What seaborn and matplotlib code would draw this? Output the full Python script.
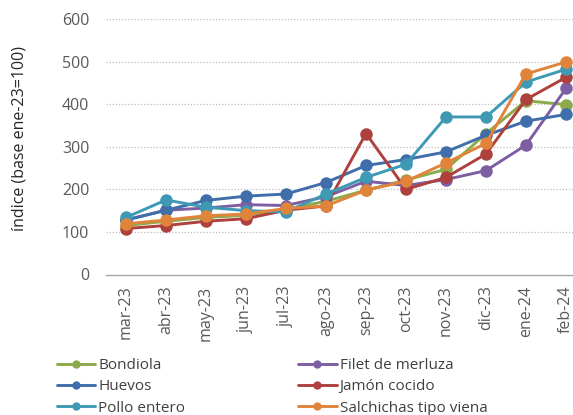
import matplotlib
matplotlib.use('Agg')
import matplotlib.pyplot as plt
from matplotlib.lines import Line2D
import seaborn as sns
import pandas as pd

sns.set_style("white")
plt.rcParams['font.family'] = ['Open Sans', 'DejaVu Sans']

months = ['mar-23', 'abr-23', 'may-23', 'jun-23', 'jul-23', 'ago-23',
          'sep-23', 'oct-23', 'nov-23', 'dic-23', 'ene-24', 'feb-24']

bondiola = [115, 125, 134, 139, 153, 172, 198, 222, 247, 331, 408, 399]
filet    = [128, 151, 156, 164, 162, 183, 219, 209, 223, 244, 304, 437]
huevos   = [128, 151, 174, 184, 189, 216, 256, 270, 288, 327, 360, 376]
jamon    = [108, 115, 125, 131, 151, 161, 331, 200, 228, 283, 411, 463]
pollo    = [134, 175, 158, 150, 147, 189, 228, 259, 370, 370, 452, 482]
salchi   = [119, 128, 138, 142, 155, 161, 198, 219, 262, 308, 471, 499]

series = {
    'Bondiola': bondiola,
    'Filet de merluza': filet,
    'Huevos': huevos,
    'Jamón cocido': jamon,
    'Pollo entero': pollo,
    'Salchichas tipo viena': salchi,
}
colors = {
    'Bondiola': '#8DAA4B',
    'Filet de merluza': '#7D5EA3',
    'Huevos': '#3F6EAB',
    'Jamón cocido': '#AE403D',
    'Pollo entero': '#3E9AB4',
    'Salchichas tipo viena': '#E0843C',
}

rows = []
for name, vals in series.items():
    for i, v in enumerate(vals):
        rows.append({'pos': i, 'mes': months[i], 'producto': name, 'valor': v})
df = pd.DataFrame(rows)

fig = plt.figure(figsize=(5.73, 4.15), dpi=100)
ax = fig.add_axes([106 / 573, 1 - 274.5 / 415, 480 / 573, 255.5 / 415])

sns.lineplot(data=df, x='pos', y='valor', hue='producto', palette=colors,
             marker='o', markersize=9, markeredgewidth=0, linewidth=2.1,
             legend=False, ax=ax, clip_on=False)

ax.set_ylim(0, 600)
ax.set_xlim(-0.5, 11.5)
ax.set_yticks(range(0, 601, 100))
for y in range(100, 601, 100):
    ax.axhline(y, color='#BFBFBF', linestyle=(0, (1, 1.5)), linewidth=0.9, zorder=0)

ax.set_xticks(range(12))
ax.set_xticklabels(months, rotation=90)
ax.set_xticks([i - 0.5 for i in range(13)], minor=True)
ax.tick_params(axis='x', which='major', length=0, pad=8, labelsize=11.5, labelcolor='#595959')
ax.tick_params(axis='x', which='minor', length=5, color='#A6A6A6', width=1, direction='out')
ax.tick_params(axis='y', length=0, pad=12, labelsize=11.5, labelcolor='#595959')

for s in ['top', 'right', 'left']:
    ax.spines[s].set_visible(False)
ax.spines['bottom'].set_color('#A6A6A6')
ax.spines['bottom'].set_linewidth(1)

ax.set_xlabel('')
ax.set_ylabel('índice (base ene-23=100)', fontsize=11.5, color='#262626')
ax.yaxis.set_label_coords(-0.163, 0.534)

order = ['Bondiola', 'Huevos', 'Pollo entero',
         'Filet de merluza', 'Jamón cocido', 'Salchichas tipo viena']
handles = [Line2D([0], [0], color=colors[n], linewidth=2.1, marker='o',
                  markersize=6, markeredgewidth=0) for n in order]
fig.legend(handles, order, ncol=2, loc='upper left', bbox_to_anchor=(57 / 573, 1 - 358 / 415),
           frameon=False, fontsize=11, handlelength=2.5, handletextpad=0.2,
           columnspacing=7.4, labelspacing=0.42, borderaxespad=0, borderpad=0)
for t in fig.legends[0].get_texts():
    t.set_color('#404040')

fig.savefig('out.png', dpi=100)
